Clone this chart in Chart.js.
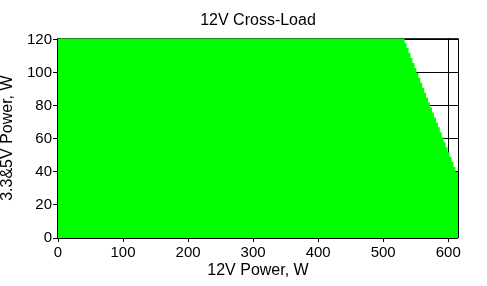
<!DOCTYPE html>
<html>
<head>
<meta charset="utf-8">
<script src="https://cdn.jsdelivr.net/npm/chart.js@4/dist/chart.umd.min.js"></script>
<style>
  body { margin: 0; background: #ffffff; }
  #wrap { width: 487px; height: 286px; }
</style>
</head>
<body>
<div id="wrap"><canvas id="crossload" width="487" height="286"></canvas></div>
<script>
// edge of the allowed region: 12V power (W) vs max 3.3&5V power (W)
var power12 = [0, 533, 536, 539, 542, 545, 548, 551, 554, 557, 560, 563, 566, 569, 572, 575,
               578, 581, 584, 587, 590, 593, 596, 599, 602, 605, 608, 611, 614, 615];
var power335 = [121, 121, 118, 115, 112, 109, 106, 103, 100, 97, 94, 91, 88, 85, 82, 79,
                76, 73, 70, 67, 64, 61, 58, 55, 52, 49, 46, 43, 40, 40];
var xTicks = [0, 100, 200, 300, 400, 500, 600];
var yTicks = [0, 20, 40, 60, 80, 100, 120];

var points = [];
for (var i = 0; i < power12.length; i++) {
    points.push({x: power12[i], y: power335[i]});
}

// top and right frame sit under the green fill, left and bottom axes above it
var frame = {
    id: 'frame',
    beforeDatasetsDraw: function(chart) {
        var a = chart.chartArea, c = chart.ctx;
        c.save();
        c.strokeStyle = '#000';
        c.lineWidth = 1;
        c.beginPath();
        c.moveTo(a.left, a.top + 0.5);
        c.lineTo(a.right + 0.5, a.top + 0.5);
        c.lineTo(a.right + 0.5, a.bottom);
        c.stroke();
        c.restore();
    },
    afterDatasetsDraw: function(chart) {
        var a = chart.chartArea, c = chart.ctx;
        c.save();
        c.strokeStyle = '#000';
        c.lineWidth = 1;
        c.beginPath();
        c.moveTo(a.left - 0.5, a.top);
        c.lineTo(a.left - 0.5, a.bottom + 0.5);
        c.lineTo(a.right, a.bottom + 0.5);
        c.stroke();
        c.restore();
    }
};

var ctx = document.getElementById('crossload');
var graph = new Chart(ctx, {
    type: 'line',
    data: {
        datasets: [{
            data: points,
            stepped: 'after',
            fill: 'origin',
            backgroundColor: '#00ff00',
            borderWidth: 0,
            pointRadius: 0
        }]
    },
    plugins: [frame],
    options: {
        responsive: false,
        animation: false,
        events: [],
        layout: { padding: { left: 0, top: 0, right: 29, bottom: 0 } },
        plugins: {
            legend: { display: false },
            tooltip: { enabled: false },
            title: {
                display: true,
                fullSize: false,
                text: '12V Cross-Load',
                color: '#000',
                font: { family: 'Liberation Sans, Arial, sans-serif', size: 16, weight: 'normal', lineHeight: 1.2 },
                padding: { top: 11, bottom: 8 }
            }
        },
        scales: {
            x: {
                type: 'linear',
                min: 0,
                max: 615,
                afterFit: function(scale) { scale.height = 48; },
                afterBuildTicks: function(scale) {
                    scale.ticks = xTicks.map(function(v) { return {value: v}; });
                },
                border: { display: false },
                grid: { color: '#000', lineWidth: 1, tickLength: 4, drawTicks: true },
                ticks: {
                    color: '#000',
                    padding: 2,
                    maxRotation: 0,
                    autoSkip: false,
                    font: { family: 'Liberation Sans, Arial, sans-serif', size: 15 }
                },
                title: {
                    display: true,
                    text: '12V Power, W',
                    color: '#000',
                    font: { family: 'Liberation Sans, Arial, sans-serif', size: 16, lineHeight: 1.2 },
                    padding: { top: 0, bottom: 6 }
                }
            },
            y: {
                type: 'linear',
                min: 0,
                max: 121,
                afterFit: function(scale) { scale.width = 58; },
                afterBuildTicks: function(scale) {
                    scale.ticks = yTicks.map(function(v) { return {value: v}; });
                },
                border: { display: false },
                grid: { color: '#000', lineWidth: 1, tickLength: 5, drawTicks: true },
                ticks: {
                    color: '#000',
                    padding: 1,
                    autoSkip: false,
                    font: { family: 'Liberation Sans, Arial, sans-serif', size: 15 }
                },
                title: {
                    display: true,
                    text: '3.3&5V Power, W',
                    color: '#000',
                    font: { family: 'Liberation Sans, Arial, sans-serif', size: 16, lineHeight: 1 },
                    padding: { top: 0, bottom: 0 }
                }
            }
        }
    }
});
</script>
</body>
</html>
